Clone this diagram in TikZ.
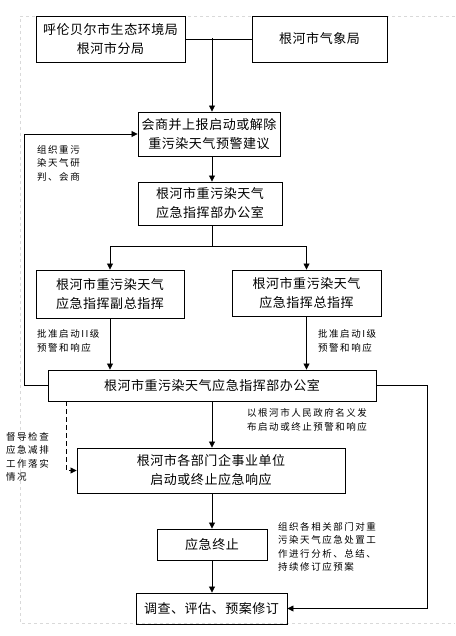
\documentclass[tikz,border=0pt]{standalone}
\usepackage{fontspec}
\setmainfont{Noto Sans CJK SC}
\newfontfamily\boxfont[LetterSpace=4]{Noto Sans CJK SC}
\newfontfamily\labfont[LetterSpace=16]{Noto Sans CJK SC}
\usetikzlibrary{arrows.meta}
\begin{document}
\begin{tikzpicture}[x=1pt,y=-1pt,
  box/.style={draw,line width=0.9pt,align=center,inner sep=0pt,font=\boxfont\fontsize{13}{19}\selectfont},
  lab/.style={align=left,inner sep=0pt,anchor=west,font=\labfont\fontsize{9.5}{13.5}\selectfont},
  arr/.style={-{Triangle[length=6pt,width=6pt]},line width=0.8pt},
  ln/.style={line width=0.8pt}]
\useasboundingbox (0,0) rectangle (455,636);
\draw[dashed, gray!30, line width=0.6pt] (455,16) -- (20,16) -- (20,623) -- (455,623);

\node[box,minimum width=149pt,minimum height=46pt] (b1) at (110.5,39) {呼伦贝尔市生态环境局\\根河市分局};
\node[box,minimum width=135pt,minimum height=46pt] (b2) at (319.5,39) {根河市气象局};
\node[box,minimum width=142pt,minimum height=44pt] (b3) at (209,134) {会商并上报启动或解除\\重污染天气预警建议};
\node[box,minimum width=144pt,minimum height=43pt] (b4) at (210,203.5) {根河市重污染天气\\应急指挥部办公室};
\node[box,minimum width=148pt,minimum height=48pt] (b5l) at (110,294) {根河市重污染天气\\应急指挥副总指挥};
\node[box,minimum width=149pt,minimum height=46pt] (b5r) at (306.5,293) {根河市重污染天气\\应急指挥总指挥};
\node[box,minimum width=328pt,minimum height=31pt] (b6) at (212,385.5) {根河市重污染天气应急指挥部办公室};
\node[box,minimum width=268pt,minimum height=45pt] (b7) at (211,470.5) {根河市各部门企事业单位\\启动或终止应急响应};
\node[box,minimum width=110pt,minimum height=31pt] (b8) at (212,544.5) {应急终止};
\node[box,minimum width=151pt,minimum height=31pt] (b9) at (211.5,608.5) {调查、评估、预案修订};

\coordinate (j1) at (212,38);
\coordinate (j2) at (212,246);
\coordinate (L) at (24,385.5);
\coordinate (R) at (427,385.5);
\coordinate (D) at (66,0);

\draw[ln] (b1.east) -- (b2.west);
\draw[arr] (j1) -- (j1|-b3.north);
\draw[arr] (b3.south-|j1) -- (b4.north-|j1);
\draw[ln] (b4.south-|j2) -- (j2);
\draw[arr] (j2) -| (b5l.north);
\draw[arr] (j2) -| (b5r.north);
\draw[arr] (b5l.south) -- (b5l.south|-b6.north);
\draw[arr] (b5r.south) -- (b5r.south|-b6.north);
\draw[arr] (b6.west) -- (L) |- (b3.west);
\draw[arr] (b6.east) -- (R) |- (b9.east);
\draw[arr] (b6.south-|j1) -- (b7.north-|j1);
\draw[arr] (b7.south-|j1) -- (b8.north-|j1);
\draw[arr] (b8.south-|j1) -- (b9.north-|j1);
\draw[arr,dash pattern=on 5pt off 3pt] (b6.south-|D) |- (b7.west);

\node[lab] (t1) at (37,163) {组织重污\\染天气研\\判、会商};
\node[lab] (t2) at (37,341) {批准启动II级\\预警和响应};
\node[lab] (t3) at (318,341) {批准启动I级\\预警和响应};
\node[lab] (t4) at (6,457) {督导检查\\应急减排\\工作落实\\情况};
\node[lab] (t5) at (247,420) {以根河市人民政府名义发\\布启动或终止预警和响应};
\node[lab] (t6) at (278,547) {组织各相关部门对重\\污染天气应急处置工\\作进行分析、总结、\\持续修订应预案};
\end{tikzpicture}
\end{document}
